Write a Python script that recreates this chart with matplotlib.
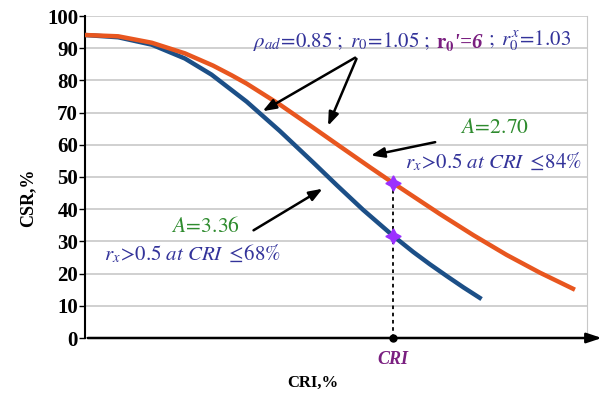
import numpy as np
import matplotlib
matplotlib.use("Agg")
import matplotlib.pyplot as plt

plt.rcParams['font.family'] = 'Liberation Serif'
plt.rcParams['mathtext.fontset'] = 'stix'

# curve values (x in arbitrary CRI units 0..100)
x_blue = [0, 6.6, 13.3, 19.9, 25.2, 32.2, 38.8, 45.4, 50.2, 55.4, 61.4, 65.4, 68.7, 72.1, 75.4, 79.0]
y_blue = [94.1, 93.4, 91.1, 86.8, 81.8, 73.4, 64.3, 54.6, 47.4, 39.8, 31.7, 26.7, 22.9, 19.2, 15.7, 12.1]
x_orange = [0, 6.6, 13.3, 19.9, 25.5, 29.2, 32.2, 38.8, 45.4, 50.8, 56.8, 61.4, 70.7, 77.4, 84.0, 90.6, 97.6]
y_orange = [94.1, 93.7, 91.7, 88.4, 84.6, 81.6, 79.0, 72.5, 65.4, 59.5, 53.0, 48.1, 38.5, 31.9, 25.8, 20.3, 15.0]
cri_x = 61.4
star_y = [31.7, 48.1]
yticks = [0, 10, 20, 30, 40, 50, 60, 70, 80, 90, 100]

BLUE = '#1c4f87'
ORANGE = '#e8561f'
TXT_BLUE = '#33339a'
GREEN = '#2e8b2e'
PURPLE = '#7a1f80'

fig = plt.figure(figsize=(6.04, 3.96), dpi=100)
ax = fig.add_axes([85/604, 58/396, 502/604, 322/396])

ax.set_xlim(0, 100)
ax.set_ylim(0, 100)
ax.set_yticks(yticks)
ax.set_xticks([])
for t in ax.get_yticklabels():
    t.set_fontweight('bold')
    t.set_fontsize(15)
ax.tick_params(axis='y', direction='out', length=4, width=1, pad=1)
ax.yaxis.grid(True, color='#c8c8c8', lw=1.2)
ax.set_axisbelow(True)
ax.spines['left'].set_linewidth(1.5)
ax.spines['bottom'].set_visible(False)
ax.spines['top'].set_visible(False)
ax.spines['right'].set_color('#c8c8c8')

ax.plot(x_blue, y_blue, color=BLUE, lw=3.2, solid_capstyle='butt', solid_joinstyle='round', zorder=3)
ax.plot(x_orange, y_orange, color=ORANGE, lw=3.2, solid_capstyle='butt', solid_joinstyle='round', zorder=3)

# x axis with arrow
ax.annotate('', xy=(103.5, 0), xytext=(0, 0), xycoords='data',
            arrowprops=dict(arrowstyle='-|>,head_length=0.9,head_width=0.3', color='black', lw=1.8),
            annotation_clip=False, zorder=5)

ax.plot([cri_x, cri_x], [0, star_y[1]], ls=(0, (2, 2)), color='black', lw=1.3, zorder=2)
ax.plot([cri_x], [0], 'o', color='black', ms=5, clip_on=False, zorder=6)
ax.plot([cri_x, cri_x], star_y, ls='none', marker=(4, 1, 0), ms=11, color='#9b30ff', zorder=4)
ax.text(cri_x, -4, 'CRI', color=PURPLE, fontsize=13, fontweight='bold', fontstyle='italic',
        ha='center', va='top')

fig.text(28/604, 1 - 198/396, 'CSR,%', fontsize=13, fontweight='bold', rotation=90,
         ha='center', va='center')
fig.text(313/604, 1 - 383/396, 'CRI,%', fontsize=12, fontweight='bold', ha='center', va='center')

# arrows
arr = dict(arrowstyle='-|>,head_length=0.8,head_width=0.3', color='black', lw=1.8)
ax.annotate('', xy=(34.9, 70.0), xytext=(54.3, 87.5), arrowprops=arr)
ax.annotate('', xy=(48.2, 65.1), xytext=(54.3, 87.5), arrowprops=arr)
ax.annotate('', xy=(56.4, 56.5), xytext=(70.3, 61.0), arrowprops=arr)
ax.annotate('', xy=(47.8, 46.8), xytext=(33.1, 33.0), arrowprops=arr)

# top parameter line: blue pieces with a bold purple middle
t1 = ax.text(33.5, 90.5, r'$\rho_{ad}\!=\!0.85\ ;\ r_0\!=\!1.05\ ;$', color=TXT_BLUE, fontsize=15,
             va='baseline')
t2 = ax.annotate(r"$\mathbf{r_0}$'=6", xy=(1, 0), xycoords=t1, xytext=(4, 0),
                 textcoords='offset points', color=PURPLE, fontsize=15, fontweight='bold',
                 fontstyle='italic', va='bottom')
t3 = ax.annotate(r'$;\ r_0^x\!=\!1.03$', xy=(1, 0), xycoords=t2, xytext=(3, 0),
                 textcoords='offset points', color=TXT_BLUE, fontsize=15, va='bottom')

ax.text(81.5, 65.0, r'$A\!=\!2.70$', color=GREEN, fontsize=15.5, ha='center', va='center')
ax.text(81.3, 54.5, r'$r_x\!>\!0.5\ \mathit{at\ CRI}\ \leq\!84\%$', color=TXT_BLUE, fontsize=15,
        ha='center', va='center')
ax.text(23.9, 34.4, r'$A\!=\!3.36$', color=GREEN, fontsize=15.5, ha='center', va='center')
ax.text(21.3, 26.1, r'$r_x\!>\!0.5\ \mathit{at\ CRI}\ \leq\!68\%$', color=TXT_BLUE, fontsize=15,
        ha='center', va='center')

fig.savefig('out.png', dpi=100)
